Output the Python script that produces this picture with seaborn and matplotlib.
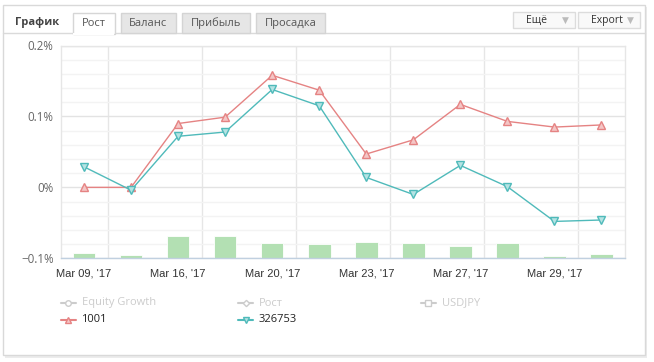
import numpy as np
import pandas as pd
import matplotlib
matplotlib.use('Agg')
import matplotlib.pyplot as plt
from matplotlib.patches import Rectangle
from matplotlib.lines import Line2D
import seaborn as sns

# данные графика (значения в %)
points = list(range(12))
growth_1001 = [0.000, 0.000, 0.090, 0.099, 0.158, 0.137, 0.047, 0.067, 0.117, 0.093, 0.085, 0.088]
growth_326753 = [0.029, -0.004, 0.072, 0.078, 0.138, 0.115, 0.014, -0.010, 0.031, 0.001, -0.048, -0.046]
volume = [0.007, 0.004, 0.031, 0.031, 0.021, 0.020, 0.023, 0.021, 0.017, 0.021, 0.003, 0.006]
tick_labels = ["Mar 09, '17", "Mar 16, '17", "Mar 20, '17", "Mar 23, '17", "Mar 27, '17", "Mar 29, '17"]
y_ticks = [-0.1, 0.0, 0.1, 0.2]
y_tick_labels = ['−0.1%', '0%', '0.1%', '0.2%']
tabs = ['Рост', 'Баланс', 'Прибыль', 'Просадка']

RED = '#e58383'
TEAL = '#4fbaba'
GREEN = '#b3e0b3'

sns.set_style('white')
plt.rcParams['font.family'] = ['Open Sans', 'DejaVu Sans']

W, H = 654, 362
fig = plt.figure(figsize=(W / 100, H / 100), dpi=100)


def box(x0, y0, x1, y1, zorder=-5, **kw):
    fig.add_artist(Rectangle((x0 / W, 1 - y1 / H), (x1 - x0) / W, (y1 - y0) / H,
                             transform=fig.transFigure, zorder=zorder, **kw))


def txt(x, y, s, **kw):
    fig.text(x / W, 1 - y / H, s, **kw)


def hline(x0, x1, y, **kw):
    fig.add_artist(Line2D([x0 / W, x1 / W], [1 - y / H, 1 - y / H], transform=fig.transFigure, **kw))


# панель
box(4.5, 7, 647, 357.5, facecolor='#ececec', edgecolor='none', zorder=-10)
box(2.5, 5, 644.5, 355, facecolor='white', edgecolor='#d9d9d9', lw=1, zorder=-9)
hline(2.5, 644.5, 33.3, color='#dadada', lw=1, zorder=-8)

txt(15, 22.5, 'График', fontsize=8, fontweight='bold', color='#444', va='center')
tab_x = [(72.7, 115), (120.7, 176), (181.7, 250), (255.7, 325)]
for i, (name, (x0, x1)) in enumerate(zip(tabs, tab_x)):
    if i == 0:
        box(x0, 12.7, x1, 34, facecolor='white', edgecolor='#d6d6d6', lw=1, zorder=3)
        box(x0 + 0.6, 32.5, x1 - 0.6, 35, facecolor='white', edgecolor='none', zorder=4)
    else:
        box(x0, 12.7, x1, 33.3, facecolor='#e6e6e6', edgecolor='#d4d4d4', lw=1, zorder=3)
    txt((x0 + x1) / 2, 23.5, name, fontsize=8, color='#555', ha='center', va='center', zorder=5)

for name, x0, x1 in [('Ещё', 512.7, 575), ('Export', 578, 640)]:
    box(x0, 11.7, x1, 28.3, facecolor='#f9f9f9', edgecolor='#dcdcdc', lw=1, zorder=3)
    txt(x0 + 13, 20, name, fontsize=7.5, color='#333', va='center')
    txt(x1 - 10, 20, '▼', fontsize=6.5, color='#bbb', ha='center', va='center', family='DejaVu Sans')

# область графика
ax = fig.add_axes([60.5 / W, 1 - 258.3 / H, 564.5 / W, 212.8 / H])
ax.set_zorder(10)
ax.set_axisbelow(True)

sns.barplot(x=points, y=volume, ax=ax, color=GREEN, saturation=1, width=0.48,
            bottom=-0.1, edgecolor='white', linewidth=0.6)
sns.lineplot(x=points, y=growth_1001, ax=ax, color=RED, lw=1, marker='^', markersize=5.2,
             markerfacecolor='#f4c6c6', markeredgecolor=RED, markeredgewidth=1)
sns.lineplot(x=points, y=growth_326753, ax=ax, color=TEAL, lw=1, marker='v', markersize=5.2,
             markerfacecolor='#b5e3e3', markeredgecolor=TEAL, markeredgewidth=1)

ax.set_xlim(-0.5, 11.5)
ax.set_ylim(-0.1, 0.2)
ax.set_xticks(points[::2])
ax.set_xticklabels(tick_labels, fontsize=8, color='#333', family=['Liberation Sans', 'DejaVu Sans'])
ax.set_xticks(np.arange(0.5, 11, 2), minor=True)
ax.set_yticks(y_ticks)
ax.set_yticklabels(y_tick_labels, fontsize=8.3, color='#666')
ax.set_yticks(np.arange(-0.1, 0.2, 0.02), minor=True)
ax.tick_params(which='both', length=0)
ax.tick_params(axis='x', pad=7)
ax.tick_params(axis='y', pad=5)
ax.grid(False)
ax.xaxis.grid(True, which='minor', color='#e6e6e6', lw=1)
ax.yaxis.grid(True, which='major', color='#e3e3e3', lw=1)
ax.yaxis.grid(True, which='minor', color='#f3f3f3', lw=1)
ax.set_xlabel('')
ax.set_ylabel('')
for side in ['left', 'right', 'top']:
    ax.spines[side].set_color('#e6e6e6')
    ax.spines[side].set_linewidth(1)
ax.spines['bottom'].set_color('#c0d0e0')
ax.spines['bottom'].set_linewidth(1)

# легенда
legend_items = [
    (60.5, 303, 'Equity Growth', '#cccccc', 'o', 'white', '#cccccc'),
    (238, 303, 'Рост', '#cccccc', 'D', 'white', '#cccccc'),
    (420.7, 303, 'USDJPY', '#cccccc', 's', 'white', '#cccccc'),
    (60.5, 320, '1001', RED, '^', '#f4c6c6', '#222222'),
    (238, 320, '326753', TEAL, 'v', '#b5e3e3', '#222222'),
]
for x0, y0, name, col, mk, face, tcol in legend_items:
    fig.add_artist(Line2D([x0 / W, (x0 + 15) / W], [1 - y0 / H] * 2, transform=fig.transFigure,
                          color=col, lw=1.5))
    fig.add_artist(Line2D([(x0 + 7.5) / W], [1 - y0 / H], transform=fig.transFigure,
                          marker=mk, markersize=4 if mk != 'D' else 3.2, markerfacecolor=face,
                          markeredgecolor=col, markeredgewidth=1, color=col))
    txt(x0 + 21, y0, name, fontsize=8, color=tcol, va='center')

fig.savefig('out.png', dpi=100)
